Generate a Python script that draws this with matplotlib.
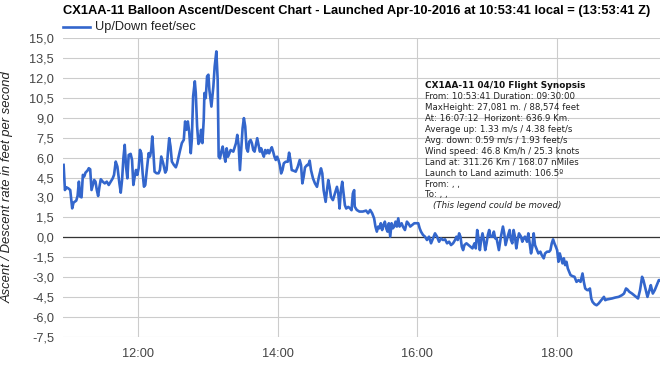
import matplotlib
matplotlib.use("Agg")
import matplotlib.pyplot as plt
from matplotlib.ticker import FuncFormatter, FixedLocator
import numpy as np

# ---------------- data (hours local, ft/s) ----------------
hours = [
    10.929, 10.948, 10.967, 10.995, 11.024, 11.052, 11.071, 11.110, 11.129, 11.148,
    11.167, 11.186, 11.205, 11.224, 11.243, 11.271, 11.290, 11.310, 11.329, 11.348,
    11.367, 11.386, 11.405, 11.424, 11.443, 11.462, 11.490, 11.519, 11.548, 11.576,
    11.605, 11.633, 11.652, 11.676, 11.700, 11.729, 11.748, 11.767, 11.786, 11.805,
    11.824, 11.843, 11.862, 11.890, 11.910, 11.929, 11.948, 11.967, 11.986, 12.005,
    12.024, 12.043, 12.062, 12.081, 12.100, 12.119, 12.148, 12.167, 12.186, 12.200,
    12.214, 12.233, 12.262, 12.290, 12.310, 12.329, 12.357, 12.386, 12.405, 12.424,
    12.443, 12.462, 12.481, 12.510, 12.538, 12.557, 12.595, 12.624, 12.652, 12.671,
    12.690, 12.710, 12.729, 12.752, 12.767, 12.786, 12.810, 12.824, 12.843, 12.862,
    12.881, 12.900, 12.919, 12.938, 12.948, 12.967, 12.986, 13.005, 13.019, 13.048,
    13.076, 13.095, 13.119, 13.138, 13.152, 13.171, 13.190, 13.210, 13.229, 13.248,
    13.267, 13.286, 13.305, 13.324, 13.362, 13.400, 13.419, 13.438, 13.457, 13.476,
    13.495, 13.514, 13.533, 13.552, 13.571, 13.590, 13.610, 13.629, 13.648, 13.667,
    13.686, 13.705, 13.724, 13.743, 13.762, 13.781, 13.800, 13.819, 13.838, 13.857,
    13.876, 13.895, 13.914, 13.933, 13.952, 13.971, 13.990, 14.010, 14.029, 14.048,
    14.067, 14.086, 14.114, 14.143, 14.162, 14.181, 14.200, 14.229, 14.257, 14.286,
    14.314, 14.333, 14.352, 14.371, 14.390, 14.419, 14.438, 14.457, 14.476, 14.505,
    14.533, 14.562, 14.590, 14.619, 14.638, 14.657, 14.686, 14.705, 14.724, 14.743,
    14.762, 14.790, 14.819, 14.848, 14.867, 14.886, 14.905, 14.924, 14.943, 14.962,
    14.981, 15.010, 15.038, 15.057, 15.076, 15.095, 15.103, 15.132, 15.170, 15.218,
    15.266, 15.295, 15.324, 15.353, 15.381, 15.400, 15.420, 15.439, 15.458, 15.477,
    15.496, 15.516, 15.535, 15.554, 15.573, 15.592, 15.612, 15.631, 15.650, 15.669,
    15.688, 15.707, 15.727, 15.746, 15.775, 15.794, 15.823, 15.851, 15.871, 15.899,
    15.928, 15.957, 15.986, 16.014, 16.034, 16.053, 16.082, 16.110, 16.139, 16.168,
    16.197, 16.225, 16.254, 16.283, 16.312, 16.341, 16.369, 16.398, 16.427, 16.456,
    16.484, 16.513, 16.542, 16.561, 16.580, 16.600, 16.619, 16.638, 16.657, 16.676,
    16.705, 16.734, 16.763, 16.791, 16.820, 16.839, 16.859, 16.878, 16.897, 16.916,
    16.935, 16.954, 16.974, 16.993, 17.012, 17.031, 17.050, 17.079, 17.098, 17.117,
    17.137, 17.170, 17.199, 17.228, 17.247, 17.266, 17.295, 17.324, 17.343, 17.362,
    17.381, 17.400, 17.420, 17.439, 17.458, 17.487, 17.506, 17.525, 17.544, 17.573,
    17.592, 17.612, 17.631, 17.650, 17.669, 17.688, 17.717, 17.736, 17.765, 17.784,
    17.813, 17.832, 17.861, 17.890, 17.909, 17.928, 17.947, 17.966, 17.986, 18.005,
    18.024, 18.043, 18.062, 18.082, 18.101, 18.120, 18.139, 18.158, 18.177, 18.197,
    18.225, 18.254, 18.283, 18.312, 18.341, 18.369, 18.388, 18.408, 18.436, 18.456,
    18.475, 18.494, 18.513, 18.542, 18.571, 18.600, 18.619, 18.638, 18.657, 18.676,
    18.695, 18.715, 18.743, 18.791, 18.839, 18.887, 18.935, 18.964, 18.993, 19.012,
    19.041, 19.079, 19.108, 19.137, 19.165, 19.194, 19.223, 19.242, 19.271, 19.300,
    19.329, 19.348, 19.377, 19.405, 19.434, 19.463, 19.480,
]
rate_fps = [
    5.45, 3.56, 3.77, 3.69, 3.56, 2.18, 2.61, 2.76, 3.11, 4.19,
    3.06, 3.01, 4.70, 4.57, 4.87, 5.02, 5.20, 5.12, 3.56, 3.94,
    4.32, 4.19, 3.56, 3.11, 3.81, 4.37, 4.19, 4.06, 4.19, 3.94,
    4.19, 4.44, 4.70, 5.70, 5.32, 4.06, 3.36, 4.32, 5.95, 6.96,
    5.32, 4.44, 6.20, 6.28, 5.83, 3.94, 4.57, 5.07, 4.70, 5.20,
    6.58, 6.33, 4.82, 3.81, 3.94, 4.94, 6.33, 6.08, 6.58, 7.59,
    6.58, 4.94, 4.82, 4.82, 5.07, 6.08, 5.57, 4.87, 5.07, 6.33,
    7.46, 6.83, 5.70, 5.45, 5.27, 5.57, 6.46, 7.09, 7.34, 8.72,
    8.09, 8.72, 7.97, 6.33, 7.34, 10.61, 11.74, 10.86, 8.35, 7.03,
    7.21, 8.09, 7.09, 8.85, 10.86, 10.48, 12.12, 12.24, 11.09, 9.84,
    11.35, 12.86, 13.99, 11.85, 6.07, 5.94, 6.45, 6.83, 6.20, 5.69,
    6.70, 6.07, 6.32, 6.57, 6.45, 7.08, 7.71, 6.95, 5.06, 6.70,
    8.21, 8.97, 8.34, 6.70, 6.45, 7.20, 7.33, 7.08, 6.57, 6.45,
    6.95, 7.46, 6.95, 6.45, 6.70, 6.32, 6.07, 6.57, 6.32, 6.57,
    6.32, 6.57, 6.78, 6.45, 6.07, 5.82, 6.07, 5.82, 5.44, 4.81,
    5.06, 5.57, 5.69, 5.69, 6.37, 5.82, 5.06, 5.01, 4.94, 5.31,
    5.82, 5.44, 4.06, 4.56, 5.26, 5.44, 5.44, 5.77, 5.06, 4.43,
    4.06, 3.80, 4.56, 5.19, 4.81, 3.55, 2.67, 3.55, 4.31, 3.80,
    3.05, 2.80, 3.30, 3.80, 3.30, 2.17, 3.55, 4.18, 3.30, 2.42,
    2.17, 2.29, 2.17, 2.04, 3.30, 3.55, 2.31, 2.06, 1.94, 1.94,
    2.01, 1.81, 2.06, 1.81, 1.43, 0.81, 0.43, 0.81, 0.68, 1.06,
    0.55, 0.93, 1.18, 0.68, 0.43, 1.06, 0.05, 1.06, 0.68, 0.81,
    1.18, 0.81, 1.43, 0.81, 1.06, 0.81, 0.55, 1.18, 1.06, 0.81,
    0.93, 1.06, 1.06, 1.06, 0.68, 0.43, 0.18, 0.05, -0.20, 0.05,
    -0.45, -0.08, 0.30, 0.05, -0.33, -0.08, -0.20, -0.15, -0.45, -0.33,
    -0.58, -0.45, -0.20, 0.05, -0.20, 0.30, 0.05, -0.70, -0.96, -0.58,
    -0.45, -0.58, -0.70, -0.83, -0.45, -0.83, 0.55, -0.08, -0.96, -0.20,
    0.30, -0.20, -0.96, -0.45, 0.18, 0.55, 0.05, 0.05, 0.43, -0.08,
    -0.08, -0.96, 0.05, 0.81, 0.30, -0.58, 0.05, 0.55, -0.20, -0.45,
    0.55, 0.05, -0.83, -0.20, 0.30, 0.05, -0.33, -0.08, 0.05, -0.33,
    0.30, -0.45, -1.21, -0.70, 0.30, -0.58, -0.96, -1.21, -1.08, -1.33,
    -1.58, -1.21, -1.08, -1.08, -0.96, -0.45, -0.15, -0.45, -0.70, -0.96,
    -1.84, -1.21, -1.58, -1.96, -1.58, -2.09, -1.84, -2.34, -2.59, -2.84,
    -2.92, -2.97, -3.35, -3.22, -3.35, -2.72, -3.35, -3.85, -3.97, -3.97,
    -3.85, -4.60, -4.86, -5.03, -5.11, -4.98, -4.86, -4.73, -4.60, -4.48,
    -4.73, -4.68, -4.65, -4.60, -4.53, -4.48, -4.35, -4.23, -3.85, -3.92,
    -4.10, -4.23, -4.35, -4.48, -4.60, -3.97, -2.97, -3.22, -3.85, -4.48,
    -3.97, -3.60, -4.23, -3.97, -3.60, -3.22, -3.22,
]

y_ticks = [-7.5, -6.0, -4.5, -3.0, -1.5, 0.0, 1.5, 3.0, 4.5, 6.0,
           7.5, 9.0, 10.5, 12.0, 13.5, 15.0]
x_ticks = [12, 14, 16, 18]
x_tick_labels = ["12:00", "14:00", "16:00", "18:00"]

title = ("CX1AA-11 Balloon Ascent/Descent Chart - Launched Apr-10-2016 "
         "at 10:53:41 local = (13:53:41 Z)")
series_name = "Up/Down feet/sec"
y_label = "Ascent / Descent rate in feet per second"
synopsis_title = "CX1AA-11 04/10 Flight Synopsis"
synopsis_lines = [
    "From: 10:53:41 Duration: 09:30:00",
    "MaxHeight: 27,081 m. / 88,574 feet",
    "At: 16:07:12  Horizont: 636.9 Km.",
    "Average up: 1.33 m/s / 4.38 feet/s",
    "Avg. down: 0.59 m/s / 1.93 feet/s",
    "Wind speed: 46.8 Km/h / 25.3 knots",
    "Land at: 311.26 Km / 168.07 nMiles",
    "Launch to Land azimuth: 106.5\u00ba",
    "From: , ,",
    "To: , ,",
]
synopsis_note = "(This legend could be moved)"

# ---------------- figure ----------------
W, H = 664, 368
fig = plt.figure(figsize=(W / 100, H / 100), dpi=100)
fig.patch.set_facecolor("white")

left, right, top, bottom = 62.5, 660, 38, 337
ax = fig.add_axes([left / W, 1 - bottom / H, (right - left) / W, (bottom - top) / H])

ax.set_xlim(10.913, 19.48)
ax.set_ylim(-7.5, 15.0)

for s in ax.spines.values():
    s.set_visible(False)

ax.yaxis.set_major_locator(FixedLocator(y_ticks))
ax.xaxis.set_major_locator(FixedLocator(x_ticks))
ax.set_xticklabels(x_tick_labels)
ax.yaxis.set_major_formatter(FuncFormatter(lambda v, p: f"{v:.1f}".replace(".", ",")))
ax.tick_params(axis="both", length=0, labelsize=9.2, labelcolor="#444444")
ax.tick_params(axis="y", pad=6)
ax.tick_params(axis="x", pad=8)
for lab in ax.get_xticklabels() + ax.get_yticklabels():
    lab.set_fontfamily("Liberation Sans")

ax.grid(True, color="#cccccc", linewidth=0.8)
ax.set_axisbelow(True)
ax.axhline(0, color="#333333", linewidth=0.9, zorder=2)

ln, = ax.plot(hours, rate_fps, color="#3366cc", linewidth=1.9,
              solid_joinstyle="round", zorder=3, label=series_name)

ax.set_ylabel(y_label, fontsize=9.4, style="italic", color="#222222",
              family="Liberation Sans", labelpad=8)
ax.yaxis.set_label_coords(-(left - 14) / (right - left), 0.5)

# title
fig.text(63 / W, 1 - 11 / H, title, ha="left", va="center", fontsize=9.3,
         fontweight="bold", family="Liberation Sans", color="#000000")

# legend (drawn manually)
fig.add_artist(plt.Line2D([63 / W, 90 / W], [1 - 27 / H, 1 - 27 / H],
                          color="#3366cc", linewidth=1.9))
fig.text(95 / W, 1 - 27 / H, series_name, ha="left", va="center", fontsize=9.2,
         family="Liberation Sans", color="#222222")

# synopsis block
x0 = 425 / W
y0 = 86
dy = 10.9
fig.text(x0, 1 - y0 / H, synopsis_title, ha="left", va="center", fontsize=6.4,
         fontweight="bold", family="DejaVu Sans", color="#111111")
for i, line in enumerate(synopsis_lines):
    fig.text(x0, 1 - (y0 + dy * (i + 1)) / H, line, ha="left", va="center",
             fontsize=6.2, family="DejaVu Sans", color="#222222")
fig.text(433 / W, 1 - (y0 + dy * 11) / H, synopsis_note, ha="left", va="center",
         fontsize=6.2, style="italic", family="DejaVu Sans", color="#222222")

fig.savefig("out.png", dpi=100, facecolor="white")
